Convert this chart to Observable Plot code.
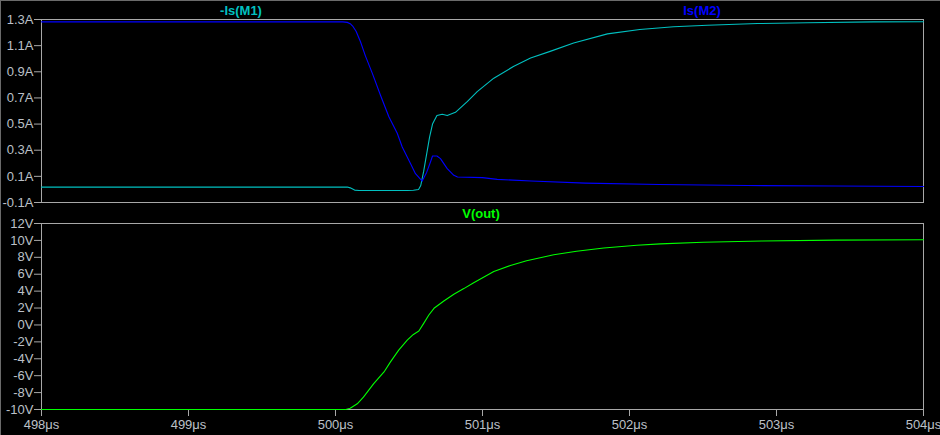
<!DOCTYPE html>
<html>
<head>
<meta charset="utf-8">
<script src="https://cdn.jsdelivr.net/npm/d3@7"></script>
<script src="https://cdn.jsdelivr.net/npm/@observablehq/plot@0.6"></script>
<style>
  html, body { margin: 0; padding: 0; background: #000; }
  #wrap { position: relative; width: 940px; height: 435px; background: #000; overflow: hidden;
          box-shadow: inset 1px 1px 0 #6a6a6a; font-family: "Liberation Sans", Arial, sans-serif; }
  .ttl { position: absolute; font-size: 13px; font-weight: bold; line-height: 13px; transform: translateX(-50%); white-space: nowrap; }
  #top, #bot { position: absolute; left: 0; }
  #top { top: 0; }
  #bot { top: 200px; }
</style>
</head>
<body>
<div id="wrap">
  <div id="top"></div>
  <div id="bot"></div>
  <div class="ttl" style="left:241px; top:4px; color:#00c0c0;">-Is(M1)</div>
  <div class="ttl" style="left:702px; top:4px; color:#0000ff;">Is(M2)</div>
  <div class="ttl" style="left:481px; top:207px; color:#00ff00;">V(out)</div>
</div>
<script>
// ---- data (time in µs) ----
const xTicks = [498, 499, 500, 501, 502, 503, 504];
const currentTicks = [-0.1, 0.1, 0.3, 0.5, 0.7, 0.9, 1.1, 1.3];
const voltageTicks = [-10, -8, -6, -4, -2, 0, 2, 4, 6, 8, 10, 12];

// -Is(M1)
const tM1 = [498, 500.08, 500.10, 500.13, 500.16, 500.49, 500.53, 500.565, 500.58, 500.60, 500.62, 500.64, 500.66, 500.69,
             500.726, 500.76, 500.816, 500.896, 500.964, 501.077, 501.21, 501.327, 501.46, 501.62, 501.85, 502.07, 502.30,
             502.53, 502.87, 503.21, 503.66, 504];
const iM1 = [0.018, 0.018, 0.012, -0.005, -0.008, -0.008, -0.006, 0.0, 0.03, 0.14, 0.27, 0.40, 0.50, 0.565,
             0.575, 0.565, 0.59, 0.672, 0.748, 0.851, 0.94, 1.005, 1.056, 1.12, 1.19, 1.223, 1.244,
             1.256, 1.269, 1.275, 1.282, 1.283];

// Is(M2)
const tM2 = [498, 500.05, 500.08, 500.10, 500.12, 500.14, 500.17, 500.204, 500.25, 500.306, 500.363, 500.42, 500.454,
             500.51, 500.544, 500.59, 500.62, 500.646, 500.66, 500.69, 500.714, 500.76, 500.805, 500.83, 501.0, 501.1,
             501.33, 501.7, 502.2, 502.8, 503.4, 504];
const iM2 = [1.282, 1.282, 1.278, 1.268, 1.245, 1.21, 1.13, 1.02, 0.89, 0.72, 0.556, 0.43, 0.325,
             0.198, 0.12, 0.064, 0.13, 0.21, 0.256, 0.256, 0.236, 0.159, 0.108, 0.095, 0.09, 0.077,
             0.064, 0.048, 0.038, 0.03, 0.026, 0.022];

// V(out)
const tV = [498, 500.07, 500.10, 500.148, 500.19, 500.26, 500.33, 500.374, 500.43, 500.488, 500.53, 500.567, 500.60,
            500.635, 500.67, 500.737, 500.805, 500.873, 500.94, 501.077, 501.19, 501.30, 501.485, 501.64, 501.825,
            502.05, 502.21, 502.5, 502.9, 503.4, 504];
const vOut = [-10, -10, -9.85, -9.32, -8.54, -6.94, -5.56, -4.37, -2.98, -1.79, -1.12, -0.72, 0.19,
              1.18, 1.97, 2.84, 3.64, 4.3, 5.0, 6.33, 7.04, 7.6, 8.31, 8.71, 9.11,
              9.42, 9.59, 9.78, 9.93, 10.03, 10.08];

// ---- build tables ----
const m1 = tM1.map((t, i) => ({t, v: iM1[i]}));
const m2 = tM2.map((t, i) => ({t, v: iM2[i]}));
const vo = tV.map((t, i) => ({t, v: vOut[i]}));

const gridGray = "#a8a8a8";
const textGray = "#bcc0c8";
const font = "Liberation Sans, Arial, sans-serif";

const topPlot = Plot.plot({
  width: 940, height: 210,
  marginLeft: 41, marginRight: 17, marginTop: 19, marginBottom: 8,
  style: {background: "transparent", color: textGray, fontFamily: font, fontSize: "13px"},
  x: {domain: [498, 504], axis: null},
  y: {domain: [-0.1, 1.3]},
  marks: [
    Plot.frame({stroke: gridGray}),
    Plot.axisY({ticks: currentTicks, tickFormat: d => d.toFixed(1) + "A", tickSize: 7, tickPadding: 1,
                stroke: gridGray, label: null, fontSize: 13}),
    Plot.line(m1, {x: "t", y: "v", stroke: "#00c0c0", strokeWidth: 1.1}),
    Plot.line(m2, {x: "t", y: "v", stroke: "#0000ff", strokeWidth: 1.1})
  ]
});
document.getElementById("top").appendChild(topPlot);

const botPlot = Plot.plot({
  width: 940, height: 235,
  marginLeft: 41, marginRight: 17, marginTop: 23, marginBottom: 26,
  style: {background: "transparent", color: textGray, fontFamily: font, fontSize: "13px"},
  x: {domain: [498, 504]},
  y: {domain: [-10, 12]},
  marks: [
    Plot.frame({stroke: gridGray}),
    Plot.axisY({ticks: voltageTicks, tickFormat: d => d + "V", tickSize: 7, tickPadding: 1,
                stroke: gridGray, label: null, fontSize: 13}),
    Plot.axisX({ticks: xTicks, tickFormat: d => d + "μs", tickSize: 7, tickPadding: 3,
                stroke: gridGray, label: null, fontSize: 13}),
    Plot.line(vo, {x: "t", y: "v", stroke: "#00ff00", strokeWidth: 1.1})
  ]
});
document.getElementById("bot").appendChild(botPlot);
</script>
</body>
</html>
